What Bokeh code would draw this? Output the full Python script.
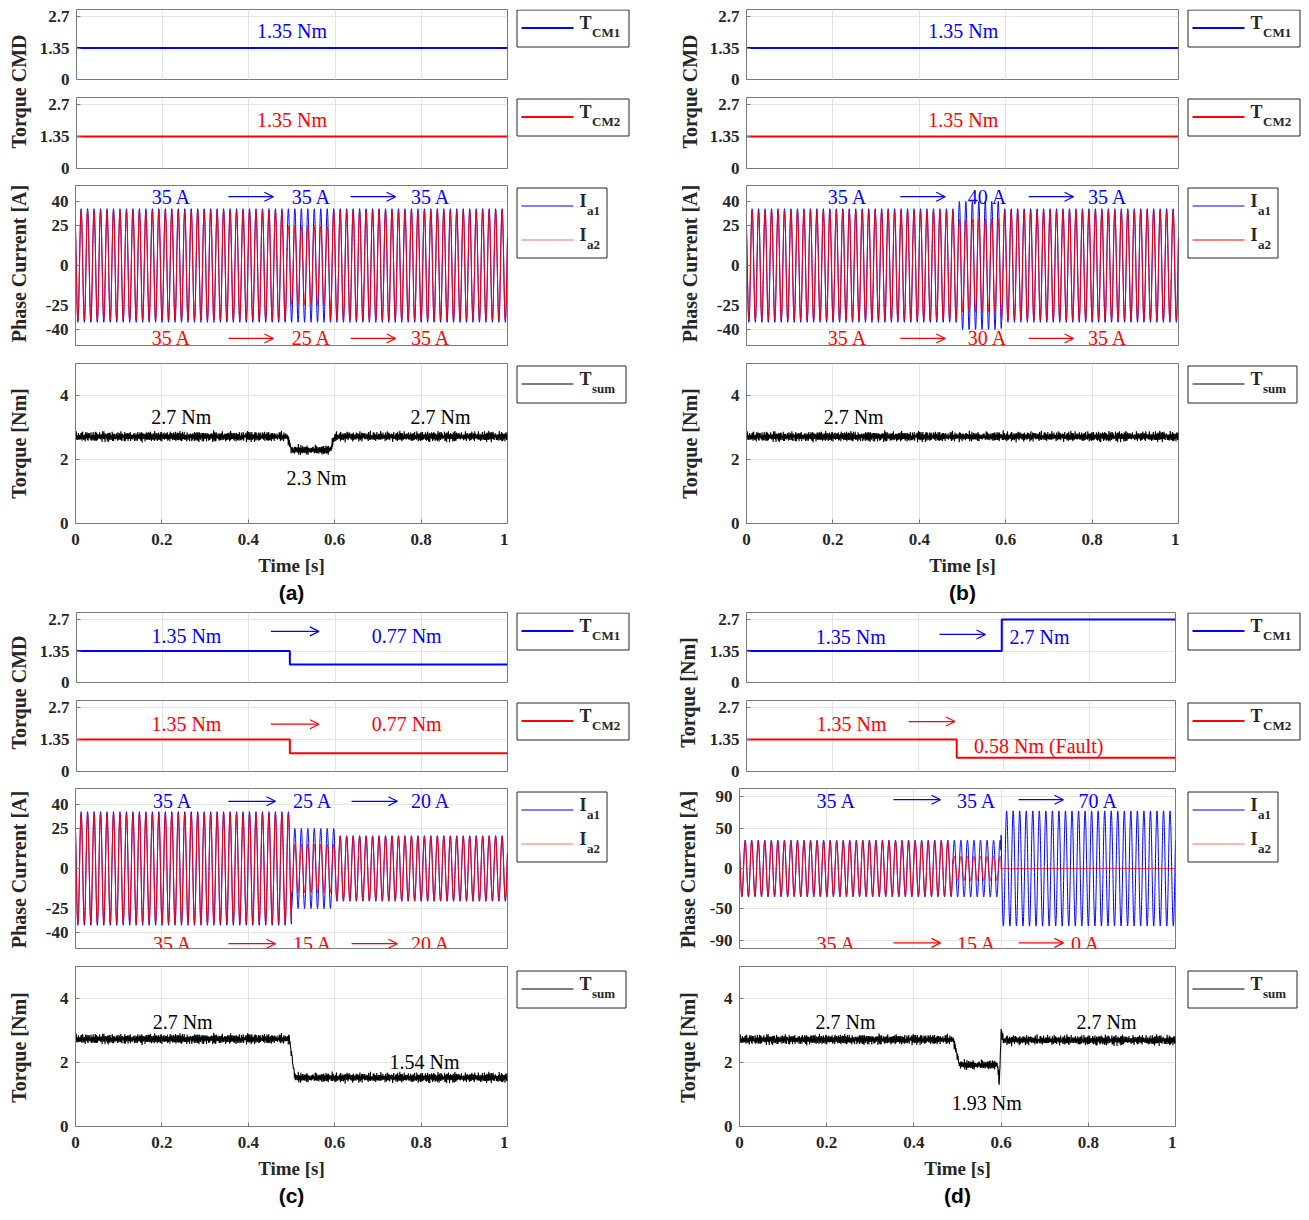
import numpy as np
from bokeh.plotting import figure
from bokeh.layouts import row, column
from bokeh.models import Range1d, FixedTicker, LinearAxis, Grid, Arrow, OpenHead, Title, Label
from bokeh.core.properties import value
from bokeh.embed import file_html
from bokeh.resources import INLINE

# ---------------- data ----------------
TIME_TICKS = [0, 0.2, 0.4, 0.6, 0.8, 1]
TIME_LABELS = ["0", "0.2", "0.4", "0.6", "0.8", "1"]
CMD_TICKS = [0, 1.35, 2.7]
CMD_LABELS = ["0", "1.35", "2.7"]
CUR_TICKS = [-40, -25, 0, 25, 40]
CUR_LABELS = ["-40", "-25", "0", "25", "40"]
CUR_TICKS_D = [-90, -50, 0, 50, 90]
CUR_LABELS_D = ["-90", "-50", "0", "50", "90"]
TSUM_TICKS = [0, 2, 4]
TSUM_LABELS = ["0", "2", "4"]

# torque commands (value holds from each time on)
cmd1_a_t = [0, 1];        cmd1_a_v = [1.35, 1.35]
cmd2_a_t = [0, 1];        cmd2_a_v = [1.35, 1.35]
cmd1_b_t = [0, 1];        cmd1_b_v = [1.35, 1.35]
cmd2_b_t = [0, 1];        cmd2_b_v = [1.35, 1.35]
cmd1_c_t = [0, 0.495, 1]; cmd1_c_v = [1.35, 0.77, 0.77]
cmd2_c_t = [0, 0.495, 1]; cmd2_c_v = [1.35, 0.77, 0.77]
cmd1_d_t = [0, 0.595, 1]; cmd1_d_v = [1.35, 2.7, 2.7]
cmd2_d_t = [0, 0.49, 1];  cmd2_d_v = [1.35, 0.58, 0.58]

# phase currents: segment boundaries [s] and peak amplitudes [A]
ia_a_seg = [0, 0.49, 0.59, 1]; ia1_a_amp = [35.5, 35.5, 35.5]; ia2_a_amp = [34, 24.5, 34]
ia_b_seg = [0, 0.49, 0.59, 1]; ia1_b_amp = [35.5, 40, 35.5];   ia2_b_amp = [34, 29, 34]
ia_c_seg = [0, 0.5, 0.6, 1];   ia1_c_amp = [35.5, 25, 20.5];   ia2_c_amp = [34, 15, 20]
ia_d_seg = [0, 0.49, 0.6, 1];  ia1_d_amp = [35.5, 35.5, 72];   ia2_d_amp = [34, 15, 0]
CURRENT_FREQ = 66.7   # Hz (peak spacing)
CURRENT_PHASE = 2.4   # rad

# summed torque: mean level breakpoints [s], [Nm]
tsum_a_t = [0, 0.49, 0.50, 0.59, 0.60, 1];  tsum_a_v = [2.72, 2.72, 2.3, 2.3, 2.72, 2.72]
tsum_b_t = [0, 1];                          tsum_b_v = [2.72, 2.72]
tsum_c_t = [0, 0.495, 0.508, 1];            tsum_c_v = [2.74, 2.74, 1.53, 1.53]
tsum_d_t = [0, 0.49, 0.505, 0.592, 0.596, 0.600, 0.605, 1]
tsum_d_v = [2.72, 2.72, 1.93, 1.93, 1.3, 3.0, 2.7, 2.7]
# torque ripple read as a jagged band (Nm)
ripple_a = [0.06, -0.09, 0.12, -0.04, 0.08, -0.13, 0.03, -0.07, 0.14, -0.10, 0.01, 0.09,
            -0.11, 0.05, -0.12, 0.10, -0.05, 0.07, -0.12, 0.02, 0.13, -0.08, -0.01, -0.11,
            0.09, -0.06, 0.05, -0.13, 0.11, -0.03, 0.08, -0.10, 0.12, -0.07, 0.03, -0.12,
            0.06, -0.02, 0.11, -0.09, 0.04, -0.11, 0.01, 0.10, -0.14, 0.07, -0.04]
ripple_b = [0.03, -0.02, 0.04, 0.01, -0.04, 0.02, -0.01, 0.05, -0.03, 0.00, 0.04, -0.05,
            0.02, -0.02, 0.03, 0.01, -0.04, 0.05, -0.01, -0.03, 0.02, 0.04, -0.02, 0.00,
            -0.05, 0.03, 0.01, -0.03, 0.02]

# ---------------- styles / layout ----------------
BLUE = "#0000ff"; RED = "#ff0000"; BLACK = "#000000"
FRAME = "#7a7a7a"; GRIDC = "#e4e4e4"; TXT = "#262626"
SERIF = "Liberation Serif"
FRAME_H = [70, 71, 160, 160]
TOP_ROW = dict(btop=[9, 8, 7, 9], bbot=[10, 10, 9, 88], leg_by=[9, 9, 9, 11],
               strip_c=[91, 263, 443])
BOT_ROW = dict(btop=[1, 8, 7, 9], bbot=[10, 10, 9, 86], leg_by=[1, 10, 10, 13],
               strip_c=[81, 258, 436])

t_cur = np.linspace(0, 1, 5001)
t_tq = np.linspace(0, 1, 1201)


def envelope(seg, amp, t):
    idx = np.clip(np.searchsorted(seg, t, side="right") - 1, 0, len(amp) - 1)
    return np.asarray(amp, dtype=float)[idx]


def phase_current(seg, amp):
    return envelope(seg, amp, t_cur) * np.sin(2 * np.pi * CURRENT_FREQ * t_cur + CURRENT_PHASE)


def torque_sum(tb, vb):
    n = len(t_tq)
    return np.interp(t_tq, tb, vb) + np.resize(ripple_a, n) + np.resize(ripple_b, n)


def style_axis(ax, labels):
    ax.axis_line_color = FRAME
    ax.major_tick_line_color = FRAME
    ax.major_tick_in = 4
    ax.major_tick_out = 0
    ax.minor_tick_line_color = None
    ax.major_label_overrides = dict(zip(ax.ticker.ticks, labels))
    ax.major_label_text_font = SERIF
    ax.major_label_text_font_style = "bold"
    ax.major_label_text_font_size = "17px"
    ax.major_label_text_color = TXT
    ax.major_label_standoff = 7


def main_fig(k, bt, bb, bl, fw, yr, yticks, ylabels, bottom=False, title=None):
    fh = FRAME_H[k]
    p = figure(width=bl + fw + 1, height=bt + fh + bb, x_range=Range1d(0, 1), y_range=Range1d(*yr),
               x_axis_type=None, y_axis_type=None, output_backend="svg", toolbar_location=None,
               title=None, min_border_left=bl, min_border_right=1, min_border_top=bt,
               min_border_bottom=bb)
    p.outline_line_color = FRAME
    p.background_fill_color = "white"
    p.border_fill_color = "white"
    xt = FixedTicker(ticks=TIME_TICKS)
    yt = FixedTicker(ticks=yticks)
    p.add_layout(Grid(dimension=0, ticker=xt, grid_line_color=GRIDC))
    p.add_layout(Grid(dimension=1, ticker=yt, grid_line_color=GRIDC))
    if bottom:
        xb = LinearAxis(ticker=xt)
        style_axis(xb, TIME_LABELS)
        xb.major_label_standoff = 10
        xb.axis_label = "Time [s]"
        xb.axis_label_text_font = SERIF
        xb.axis_label_text_font_style = "bold"
        xb.axis_label_text_font_size = "19px"
        xb.axis_label_text_color = TXT
        xb.axis_label_standoff = 7
        p.add_layout(xb, "below")
    yl = LinearAxis(ticker=yt)
    style_axis(yl, ylabels)
    p.add_layout(yl, "left")
    if title:
        p.add_layout(Title(text=title, align="center", text_font="Liberation Sans",
                           text_font_style="bold", text_font_size="21px",
                           text_color="black", standoff=1), "below")
    return p


def legend_fig(w, bt, fh, bb, bx, by, letter, entries, lw, bw, bh):
    # frame of this figure is aligned with the neighbouring plot frame; local pixel units
    p = figure(width=w, height=bt + fh + bb, x_range=Range1d(0, w), y_range=Range1d(bt + fh, bt),
               x_axis_type=None, y_axis_type=None, output_backend="svg", title=None,
               toolbar_location=None, min_border_left=0, min_border_right=0,
               min_border_top=bt, min_border_bottom=bb)
    p.outline_line_color = None
    p.quad(left=[bx + 0.5], right=[bx + bw + 0.5], top=[by + 0.5], bottom=[by + bh + 0.5],
           fill_color="white", line_color=TXT, line_width=1)
    lw_letter = 12.5 if letter == "T" else 7.5
    for i, (col, sub) in enumerate(entries):
        ly = by + 18.5 + 34 * i
        p.line([bx + 5, bx + 57], [ly, ly], line_color=col, line_width=lw)
        p.text([bx + 63], [by + 13 + 34 * i], [letter], text_font=value(SERIF),
               text_font_style="bold", text_font_size="18px", text_color=TXT,
               text_baseline="middle", text_align="left")
        p.text([bx + 63 + lw_letter], [by + 22.5 + 34 * i], [sub], text_font=value(SERIF),
               text_font_style="bold", text_font_size="13px", text_color=TXT,
               text_baseline="middle", text_align="left")
    return p


def strip_fig(w, h, x, labels, centers):
    p = figure(width=w, height=h, x_range=Range1d(0, w), y_range=Range1d(0, h),
               x_axis_type=None, y_axis_type=None, output_backend="svg", title=None,
               toolbar_location=None, min_border=0)
    p.outline_line_color = None
    p.text([x] * 3, [h - c for c in centers], labels, angle=np.pi / 2, text_align="center",
           text_baseline="middle", text_font=value(SERIF), text_font_style="bold",
           text_font_size="20px", text_color=TXT)
    return p


def build_panel(P, R):
    figs = []
    cur_ticks, cur_labels, cur_range = P["cur"]
    specs = [((0, 3), CMD_TICKS, CMD_LABELS), ((0, 3), CMD_TICKS, CMD_LABELS),
             (cur_range, cur_ticks, cur_labels), ((0, 5), TSUM_TICKS, TSUM_LABELS)]
    for k in range(4):
        yr, yt, yl = specs[k]
        p = main_fig(k, R["btop"][k], R["bbot"][k], P["bl"], P["fw"], yr, yt, yl,
                     bottom=(k == 3), title=P["title"] if k == 3 else None)
        figs.append(p)
    t1, v1 = P["cmd1"]
    figs[0].step(t1, v1, mode="after", line_color=BLUE, line_width=2)
    t2, v2 = P["cmd2"]
    figs[1].step(t2, v2, mode="after", line_color=RED, line_width=2)
    seg, a1, a2 = P["ia"]
    figs[2].line(t_cur, phase_current(seg, a1), line_color=BLUE, line_width=1)
    figs[2].line(t_cur, phase_current(seg, a2), line_color=RED, line_width=1)
    tb, vb = P["tsum"]
    figs[3].line(t_tq, torque_sum(tb, vb), line_color=BLACK, line_width=1.1)
    for (k, x, y, txt, col) in P["texts"]:
        figs[k].add_layout(Label(x=x, y=y, text=txt, text_font=SERIF, text_font_size="20px",
                                 text_color=col, text_align="center", text_baseline="middle"))
    for (k, x0, x1, y, col) in P["arrows"]:
        figs[k].add_layout(Arrow(end=OpenHead(size=9, line_color=col, line_width=1.2),
                                 x_start=x0, y_start=y, x_end=x1, y_end=y,
                                 line_color=col, line_width=1.2))
    lx = P["leg_x"]
    lb = R["leg_by"]
    leg_specs = [("T", [(BLUE, "CM1")], 2, 112, 37), ("T", [(RED, "CM2")], 2, 112, 37),
                 ("I", [(BLUE, "a1"), (P["leg_red"], "a2")], 1.2, 90, 70),
                 ("T", [(BLACK, "sum")], 1.2, 109, 37)]
    legs = []
    for k in range(4):
        letter, entries, lw, bw, bh = leg_specs[k]
        legs.append(legend_fig(P["leg_w"], R["btop"][k], FRAME_H[k], R["bbot"][k], lx, lb[k],
                               letter, entries, lw, bw, bh))
    col = column(*[row(figs[k], legs[k]) for k in range(4)])
    h = sum(R["btop"]) + sum(R["bbot"]) + sum(FRAME_H)
    strip = strip_fig(P["strip_w"], h, P["strip_x"], P["ylabels"], R["strip_c"])
    return row(strip, col)


B, R, K = BLUE, RED, BLACK
panel_a = dict(
    title="(a)", bl=39, fw=432, leg_w=170, leg_x=8, strip_w=36, strip_x=18.5, leg_red="#ff6a6a",
    ylabels=["Torque CMD", "Phase Current [A]", "Torque [Nm]"],
    cmd1=(cmd1_a_t, cmd1_a_v), cmd2=(cmd2_a_t, cmd2_a_v),
    ia=(ia_a_seg, ia1_a_amp, ia2_a_amp), cur=(CUR_TICKS, CUR_LABELS, (-50, 50)),
    tsum=(tsum_a_t, tsum_a_v),
    texts=[(0, 0.5, 2.1, "1.35 Nm", B), (1, 0.5, 2.07, "1.35 Nm", R),
           (2, 0.222, 43, "35 A", B), (2, 0.546, 43, "35 A", B), (2, 0.822, 43, "35 A", B),
           (2, 0.222, -45.6, "35 A", R), (2, 0.546, -45.6, "25 A", R), (2, 0.822, -45.6, "35 A", R),
           (3, 0.245, 3.34, "2.7 Nm", K), (3, 0.845, 3.34, "2.7 Nm", K), (3, 0.558, 1.41, "2.3 Nm", K)],
    arrows=[(2, 0.354, 0.458, 43, B), (2, 0.637, 0.741, 43, B),
            (2, 0.354, 0.458, -45.6, R), (2, 0.637, 0.741, -45.6, R)])

panel_b = dict(
    title="(b)", bl=40, fw=432, leg_w=122, leg_x=8, strip_w=28, strip_x=11, leg_red=RED,
    ylabels=["Torque CMD", "Phase Current [A]", "Torque [Nm]"],
    cmd1=(cmd1_b_t, cmd1_b_v), cmd2=(cmd2_b_t, cmd2_b_v),
    ia=(ia_b_seg, ia1_b_amp, ia2_b_amp), cur=(CUR_TICKS, CUR_LABELS, (-50, 50)),
    tsum=(tsum_b_t, tsum_b_v),
    texts=[(0, 0.502, 2.1, "1.35 Nm", B), (1, 0.502, 2.07, "1.35 Nm", R),
           (2, 0.234, 43, "35 A", B), (2, 0.558, 43, "40 A", B), (2, 0.836, 43, "35 A", B),
           (2, 0.234, -45.6, "35 A", R), (2, 0.558, -45.6, "30 A", R), (2, 0.836, -45.6, "35 A", R),
           (3, 0.248, 3.34, "2.7 Nm", K)],
    arrows=[(2, 0.356, 0.46, 43, B), (2, 0.653, 0.757, 43, B),
            (2, 0.356, 0.46, -45.6, R), (2, 0.653, 0.757, -45.6, R)])

panel_c = dict(
    title="(c)", bl=39, fw=432, leg_w=170, leg_x=8, strip_w=36, strip_x=18.5, leg_red="#ff6a6a",
    ylabels=["Torque CMD", "Phase Current [A]", "Torque [Nm]"],
    cmd1=(cmd1_c_t, cmd1_c_v), cmd2=(cmd2_c_t, cmd2_c_v),
    ia=(ia_c_seg, ia1_c_amp, ia2_c_amp), cur=(CUR_TICKS, CUR_LABELS, (-50, 50)),
    tsum=(tsum_c_t, tsum_c_v),
    texts=[(0, 0.255, 2.01, "1.35 Nm", B), (0, 0.766, 2.01, "0.77 Nm", B),
           (1, 0.255, 1.99, "1.35 Nm", R), (1, 0.766, 1.99, "0.77 Nm", R),
           (2, 0.225, 42, "35 A", B), (2, 0.549, 42, "25 A", B), (2, 0.822, 42, "20 A", B),
           (2, 0.225, -47, "35 A", R), (2, 0.549, -47, "15 A", R), (2, 0.822, -47, "20 A", R),
           (3, 0.248, 3.28, "2.7 Nm", K), (3, 0.808, 2.03, "1.54 Nm", K)],
    arrows=[(0, 0.451, 0.5625, 2.19, B), (1, 0.451, 0.5625, 2.0, R),
            (2, 0.354, 0.463, 42, B), (2, 0.639, 0.745, 42, B),
            (2, 0.354, 0.463, -47, R), (2, 0.639, 0.745, -47, R)])

panel_d = dict(
    title="(d)", bl=33, fw=436, leg_w=125, leg_x=11, strip_w=28, strip_x=9, leg_red="#ff6a6a",
    ylabels=["Torque [Nm]", "Phase Current [A]", "Torque [Nm]"],
    cmd1=(cmd1_d_t, cmd1_d_v), cmd2=(cmd2_d_t, cmd2_d_v),
    ia=(ia_d_seg, ia1_d_amp, ia2_d_amp), cur=(CUR_TICKS_D, CUR_LABELS_D, (-100, 100)),
    tsum=(tsum_d_t, tsum_d_v),
    texts=[(0, 0.243, 1.97, "1.35 Nm", B), (0, 0.683, 1.93, "2.7 Nm", B),
           (1, 0.245, 1.99, "1.35 Nm", R), (1, 0.681, 1.06, "0.58 Nm (Fault)", R),
           (2, 0.222, 84, "35 A", B), (2, 0.544, 84, "35 A", B), (2, 0.823, 84, "70 A", B),
           (2, 0.222, -94, "35 A", R), (2, 0.544, -94, "15 A", R), (2, 0.794, -94, "0 A", R),
           (3, 0.243, 3.28, "2.7 Nm", K), (3, 0.842, 3.28, "2.7 Nm", K), (3, 0.567, 0.72, "1.93 Nm", K)],
    arrows=[(0, 0.45, 0.557, 2.06, B), (1, 0.378, 0.486, 2.11, R),
            (2, 0.353, 0.461, 86, B), (2, 0.64, 0.743, 86, B),
            (2, 0.353, 0.461, -93, R), (2, 0.64, 0.743, -93, R)])

layout = column(row(build_panel(panel_a, TOP_ROW), build_panel(panel_b, TOP_ROW)),
                row(build_panel(panel_c, BOT_ROW), build_panel(panel_d, BOT_ROW)))

open("out.html", "w").write(file_html(layout, INLINE, title="Torque and phase current"))
